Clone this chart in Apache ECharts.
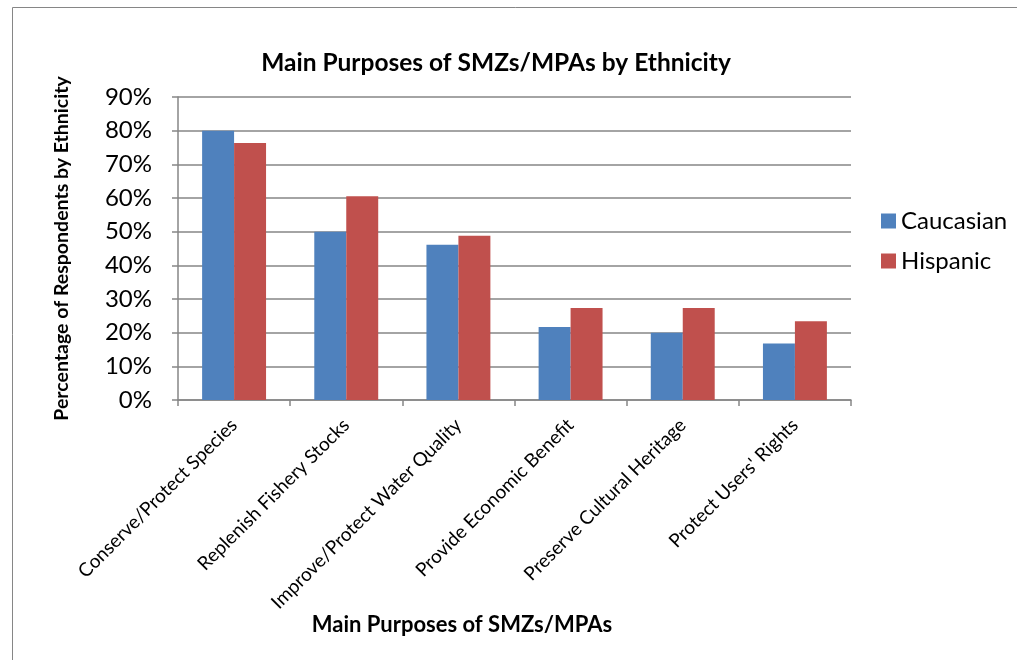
<!DOCTYPE html>
<html>
<head>
<meta charset="utf-8">
<script src="https://cdn.jsdelivr.net/npm/echarts@6/dist/echarts.min.js"></script>
<style>
html,body{margin:0;padding:0;background:#fff;}
#chart{width:1017px;height:660px;}
</style>
</head>
<body>
<div id="chart"></div>
<script>
const categories = [
  "Conserve/Protect Species",
  "Replenish Fishery Stocks",
  "Improve/Protect Water Quality",
  "Provide Economic Benefit",
  "Preserve Cultural Heritage",
  "Protect Users' Rights"
];
const caucasian = [80.0, 50.0, 46.1, 21.7, 20.0, 16.8];
const hispanic = [76.3, 60.5, 48.8, 27.3, 27.3, 23.4];
const seriesNames = ["Caucasian", "Hispanic"];
const chartTitle = "Main Purposes of SMZs/MPAs by Ethnicity";
const xAxisTitle = "Main Purposes of SMZs/MPAs";
const yAxisTitle = "Percentage of Respondents by Ethnicity";

const FONT = "Lato, 'Open Sans', sans-serif";
const chart = echarts.init(document.getElementById('chart'), null, {renderer: 'canvas'});
chart.setOption({
  animation: false,
  backgroundColor: '#fff',
  textStyle: {fontFamily: FONT, color: '#000'},
  graphic: [{
    type: 'rect', left: 10, top: 5, silent: true,
    shape: {width: 1040, height: 700},
    style: {fill: 'none', stroke: '#868686', lineWidth: 1}
  }],
  title: [
    {text: chartTitle, left: 491, top: 46, textAlign: 'center',
     textStyle: {fontFamily: FONT, fontSize: 24.5, fontWeight: 'bold', color: '#000'}},
    {text: xAxisTitle, left: 457, top: 609, textAlign: 'center',
     textStyle: {fontFamily: FONT, fontSize: 22, fontWeight: 'bold', color: '#000'}}
  ],
  legend: {
    orient: 'vertical', left: 876, top: 204,
    itemWidth: 15, itemHeight: 15, itemGap: 16,
    icon: 'rect',
    textStyle: {fontFamily: FONT, fontSize: 24, color: '#000'},
    data: seriesNames
  },
  grid: {left: 178, right: 166, top: 97, bottom: 260, containLabel: false},
  xAxis: {
    type: 'category', data: categories,
    axisLine: {lineStyle: {color: '#868686', width: 1.5}},
    axisTick: {show: true, alignWithLabel: false, length: 6, lineStyle: {color: '#868686', width: 1.5}},
    axisLabel: {rotate: 45, margin: 22, fontFamily: FONT, fontSize: 19, color: '#000', interval: 0}
  },
  yAxis: {
    type: 'value', min: 0, max: 90, interval: 10,
    name: yAxisTitle, nameLocation: 'middle', nameGap: 106, nameRotate: 90,
    nameTextStyle: {fontFamily: FONT, fontSize: 19.5, fontWeight: 'bold', color: '#000'},
    axisLine: {show: true, lineStyle: {color: '#868686', width: 1.5}},
    axisTick: {show: true, length: 6, inside: false, lineStyle: {color: '#868686', width: 1.5}},
    axisLabel: {formatter: '{value}%', margin: 26, fontFamily: FONT, fontSize: 24, color: '#000'},
    splitLine: {show: true, lineStyle: {color: '#868686', width: 1.5}}
  },
  series: [
    {name: seriesNames[0], type: 'bar', data: caucasian, barGap: '0%', barCategoryGap: '43%',
     itemStyle: {color: '#4F81BD'}},
    {name: seriesNames[1], type: 'bar', data: hispanic, barGap: '0%', barCategoryGap: '43%',
     itemStyle: {color: '#C0504D'}}
  ]
});
</script>
</body>
</html>
